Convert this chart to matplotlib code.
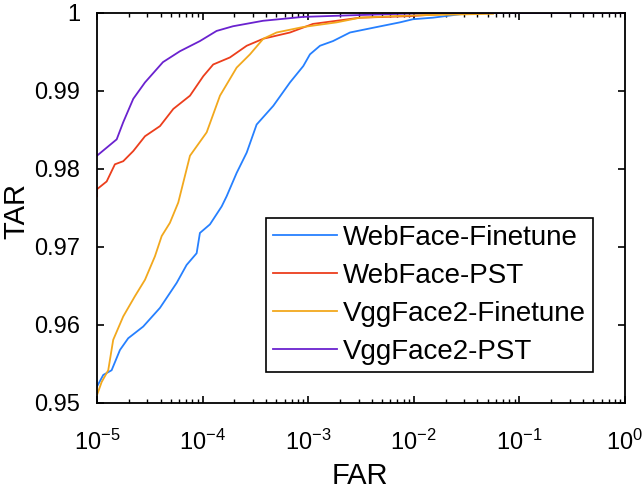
import numpy as np
import matplotlib
matplotlib.use("Agg")
import matplotlib.pyplot as plt
from matplotlib.ticker import LogLocator

plt.rcParams['font.family'] = ['Liberation Sans', 'DejaVu Sans']
plt.rcParams['mathtext.fontset'] = 'custom'
plt.rcParams['mathtext.rm'] = 'Liberation Sans'

# log10(FAR) / TAR points
labels = ["WebFace-Finetune", "WebFace-PST", "VggFace2-Finetune", "VggFace2-PST"]
colors = ["#2680FF", "#EC3E1C", "#F2A81D", "#6A22CF"]

web_ft_logfar = [-5.0, -4.94, -4.861, -4.782, -4.704, -4.562, -4.403, -4.245, -4.151, -4.056,
                 -4.025, -3.93, -3.819, -3.772, -3.677, -3.582, -3.488, -3.33, -3.172, -3.046,
                 -2.983, -2.888, -2.765, -2.604, -2.351, -2.131, -2.008, -1.818, -1.468, 0.0]
web_ft_tar = [0.9521, 0.9536, 0.9542, 0.9568, 0.9583, 0.9598, 0.9622, 0.9654, 0.9677, 0.9692,
              0.9718, 0.9729, 0.9752, 0.9765, 0.9795, 0.9821, 0.9857, 0.9881, 0.9911, 0.9932,
              0.9947, 0.9958, 0.9964, 0.9975, 0.9982, 0.9988, 0.9992, 0.9994, 1.0, 1.0]

web_pst_logfar = [-5.0, -5.0, -4.908, -4.83, -4.751, -4.656, -4.545, -4.403, -4.277, -4.119,
                  -3.993, -3.899, -3.741, -3.582, -3.425, -3.172, -2.955, -2.509, -2.036, -1.562, 0.0]
web_pst_tar = [0.9765, 0.9774, 0.9784, 0.9806, 0.981, 0.9823, 0.9842, 0.9855, 0.9877, 0.9894,
               0.9919, 0.9934, 0.9943, 0.9958, 0.9967, 0.9975, 0.9986, 0.9994, 0.9996, 1.0, 1.0]

vgg_ft_logfar = [-5.0, -4.955, -4.893, -4.846, -4.751, -4.64, -4.545, -4.451, -4.387, -4.309,
                 -4.23, -4.119, -3.961, -3.835, -3.677, -3.551, -3.425, -3.299, -3.049, -2.73,
                 -2.509, -2.008, -1.25]
vgg_ft_tar = [0.951, 0.9527, 0.9542, 0.9581, 0.9611, 0.9637, 0.9658, 0.9688, 0.9714, 0.9731,
              0.9757, 0.9817, 0.9847, 0.9894, 0.993, 0.9947, 0.9967, 0.9975, 0.9982, 0.9988,
              0.9994, 0.9997, 0.9999]

vgg_pst_logfar = [-5.0, -4.813, -4.751, -4.656, -4.545, -4.375, -4.214, -4.025, -3.867, -3.712,
                  -3.428, -3.049, -2.604, -1.875, 0.0]
vgg_pst_tar = [0.9817, 0.9838, 0.986, 0.989, 0.9911, 0.9937, 0.9951, 0.9964, 0.9977, 0.9983,
               0.999, 0.9995, 0.9997, 1.0, 1.0]

curves = [(web_ft_logfar, web_ft_tar), (web_pst_logfar, web_pst_tar),
          (vgg_ft_logfar, vgg_ft_tar), (vgg_pst_logfar, vgg_pst_tar)]

fig = plt.figure(figsize=(6.42, 4.96), dpi=100)
ax = fig.add_axes([0.151, 0.1875, 0.8225, 0.7863])

for (lf, tar), lab, c in zip(curves, labels, colors):
    ax.plot(10.0 ** np.array(lf), tar, color=c, lw=1.3, label=lab)

ax.set_xscale('log')
ax.set_xlim(1e-5, 1)
ax.set_ylim(0.95, 1)
ax.set_yticks([0.95, 0.96, 0.97, 0.98, 0.99, 1.0])
ax.set_yticklabels(["0.95", "0.96", "0.97", "0.98", "0.99", "1"])
ax.xaxis.set_major_locator(LogLocator(base=10, numticks=10))
ax.xaxis.set_minor_locator(LogLocator(base=10, subs=np.arange(2, 10), numticks=20))
ax.tick_params(which='both', direction='in', top=True, right=True, labelsize=17)
ax.tick_params(which='major', length=5, width=1.2)
ax.tick_params(which='minor', length=3, width=1.0)
ax.tick_params(axis='x', pad=19)
ax.tick_params(axis='y', pad=12)
for s in ax.spines.values():
    s.set_linewidth(1.3)

ax.set_xlabel("FAR", fontsize=21, va='center')
ax.set_ylabel("TAR", fontsize=21, va='center')
ax.xaxis.set_label_coords(0.498, -0.187)
ax.yaxis.set_label_coords(-0.153, 0.492)

leg = ax.legend(loc='lower right', bbox_to_anchor=(0.939, 0.0795), fontsize=20,
                fancybox=False, framealpha=1, edgecolor='black', handlelength=2.3,
                handletextpad=0.2, borderpad=0.25, labelspacing=0.43, borderaxespad=0)
leg.get_frame().set_linewidth(1.2)

fig.savefig("out.png", dpi=100)
